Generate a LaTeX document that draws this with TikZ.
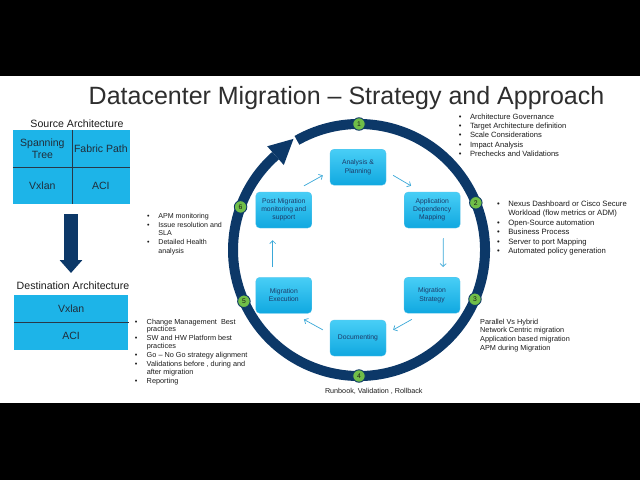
\documentclass[tikz,border=0pt]{standalone}
\usepackage{fontspec}
\setmainfont{Liberation Sans}
\usetikzlibrary{arrows.meta,calc}
\definecolor{navy}{RGB}{12,56,104}
\definecolor{cyanfill}{RGB}{29,180,232}
\definecolor{boxtop}{RGB}{72,206,246}
\definecolor{boxbot}{RGB}{16,168,224}
\definecolor{boxtext}{RGB}{28,58,104}
\definecolor{flowc}{RGB}{58,168,216}
\definecolor{numgreen}{RGB}{112,190,72}
\definecolor{bodytext}{RGB}{28,28,28}
\definecolor{divider}{RGB}{40,56,72}
\newcommand\bl{\textbullet}
\begin{document}
\begin{tikzpicture}[x=1pt,y=1pt,
  stepbox/.style={rounded corners=4pt, top color=boxtop, bottom color=boxbot, draw=boxbot!70!white, line width=0.3pt, minimum width=56pt, minimum height=36pt, inner sep=1pt, align=center, text=boxtext, font=\fontsize{6.8}{8.1}\selectfont},
  flow/.style={draw=flowc, line width=0.7pt, -{Straight Barb[length=3pt,width=6pt]}},
  numdot/.style={circle, fill=numgreen, draw=navy, line width=0.9pt, minimum size=12.5pt, inner sep=0pt, font=\fontsize{6.8}{7}\selectfont, text=black!90},
  cell/.style={fill=cyanfill, inner sep=0pt, align=center, text=divider!80!black, font=\fontsize{10.5}{12.3}\selectfont},
  divline/.style={draw=divider, line width=0.6pt},
  label/.style={font=\fontsize{10.6}{12}\selectfont, text=bodytext, inner sep=0pt},
  listtext/.style={inner sep=0pt, text=bodytext},
  bigarrow/.style={draw=navy, line width=14pt, -{Triangle[length=13pt,width=22pt]}}
]
\fill[black] (0,0) rectangle (640,-480);
\fill[white] (0,-76) rectangle (640,-403);
\useasboundingbox (0,0) rectangle (640,-480);

% title
\node[anchor=base, inner sep=0pt, font=\fontsize{25}{30}\selectfont, text=black!82] (title) at (346.5,-104) {Datacenter Migration – Strategy and Approach};

% source architecture
\node[label, anchor=base] (srclbl) at (77,-127.3) {Source Architecture};
\node[cell, minimum width=58.7pt, minimum height=37.3pt] (s11) at (42.35,-148.65) {Spanning\\Tree};
\node[cell, minimum width=58.3pt, minimum height=37.3pt] (s12) at (100.85,-148.65) {Fabric Path};
\node[cell, minimum width=58.7pt, minimum height=36.7pt] (s21) at (42.35,-185.65) {Vxlan};
\node[cell, minimum width=58.3pt, minimum height=36.7pt] (s22) at (100.85,-185.65) {ACI};
\draw[divline] (s11.north east) -- (s21.south east);
\draw[divline] (s11.south west) -- (s12.south east);

% big arrow
\coordinate (ba1) at (71,-214);
\coordinate (ba2) at (71,-273);
\draw[bigarrow] (ba1) -- (ba2);

% destination architecture
\node[label, anchor=base] (dstlbl) at (73,-289) {Destination Architecture};
\node[cell, minimum width=114.3pt, minimum height=27.3pt] (d1) at (71.15,-308.65) {Vxlan};
\node[cell, minimum width=114.3pt, minimum height=27.7pt] (d2) at (71.15,-336.15) {ACI};
\draw[divline] (d1.south west) -- (d1.south east);

% ring
\coordinate (C) at (359,-250);
\draw[navy, line width=10pt] ($(C)+(119.5:126)$) arc[start angle=119.5, end angle=-228.5, radius=126];
\fill[navy] ($(C)+(131.5:138.5)$) -- ($(C)+(120.5:129)$) -- ($(C)+(131.5:113.5)$) -- cycle;

% boxes
\node[stepbox] (ana) at (358,-167.2) {Analysis \&\\Planning};
\node[stepbox] (adm) at (432.2,-210) {Application\\Dependency\\Mapping};
\node[stepbox] (strat) at (432,-295.2) {Migration\\Strategy};
\node[stepbox] (doc) at (358,-338) {Documenting};
\node[stepbox] (exe) at (283.8,-295.3) {Migration\\Execution};
\node[stepbox] (post) at (283.8,-210) {Post Migration\\monitoring and\\support};

% flows
\draw[flow] ($(post.north east)+(-8,6)$) -- ($(ana.south west)+(-7,10)$);
\draw[flow] ($(ana.south east)+(7,10)$) -- ($(adm.north west)+(7,6)$);
\draw[flow] ($(adm.south east)+(-17,-10)$) -- ($(strat.north east)+(-17,10)$);
\draw[flow] ($(strat.south west)+(8,-6)$) -- ($(doc.north east)+(7,-10)$);
\draw[flow] ($(doc.north west)+(-7,-10)$) -- ($(exe.south east)+(-8,-6)$);
\draw[flow] ($(exe.north west)+(17,10)$) -- ($(post.south west)+(17,-12)$);

% number dots
\node[numdot] (n1) at ($(C)+(90:126)$) {1};
\node[numdot] (n2) at ($(C)+(22:126)$) {2};
\node[numdot] (n3) at ($(C)+(-23:126)$) {3};
\node[numdot] (n4) at ($(C)+(-90:126)$) {4};
\node[numdot] (n5) at ($(C)+(-156:126)$) {5};
\node[numdot] (n6) at ($(C)+(160:126)$) {6};

% lists
\node[listtext, anchor=base west, font=\fontsize{7.6}{9.35}\selectfont] (list1) at (458.7,-119) {\begin{tabular}[t]{@{}l@{\hspace{8.5pt}}l@{}}
\bl & Architecture Governance\\
\bl & Target Architecture definition\\
\bl & Scale Considerations\\
\bl & Impact Analysis\\
\bl & Prechecks and Validations
\end{tabular}};

\node[listtext, anchor=base west, font=\fontsize{7.7}{9.4}\selectfont] (list2) at (497,-206.5) {\begin{tabular}[t]{@{}l@{\hspace{8.4pt}}l@{}}
\bl & Nexus Dashboard or Cisco Secure\\
 & Workload (flow metrics or ADM)\\
\bl & Open-Source automation\\
\bl & Business Process\\
\bl & Server to port Mapping\\
\bl & Automated policy generation
\end{tabular}};

\node[listtext, anchor=base west, font=\fontsize{7.3}{8.7}\selectfont] (list3) at (480,-324) {\begin{tabular}[t]{@{}l@{}}
Parallel Vs Hybrid\\
Network Centric migration\\
Application based migration\\
APM during Migration
\end{tabular}};

\node[listtext, anchor=base, font=\fontsize{7.2}{8.7}\selectfont] (list4) at (373.8,-393) {Runbook, Validation , Rollback};

\node[listtext, anchor=base west, font=\fontsize{7.1}{8.7}\selectfont] (list6) at (147,-218.5) {\begin{tabular}[t]{@{}l@{\hspace{8.7pt}}l@{}}
\bl & APM monitoring\\
\bl & Issue resolution and\\
 & SLA\\
\bl & Detailed Health\\
 & analysis
\end{tabular}};

\node[listtext, anchor=base west, font=\fontsize{7.3}{7.8}\selectfont] (list5) at (134.7,-324) {\begin{tabular}[t]{@{}l@{\hspace{9.3pt}}l@{}}
\bl & Change Management~ Best\\
 & practices\\[1.2pt]
\bl & SW and HW Platform best\\
 & practices\\[1.2pt]
\bl & Go – No Go strategy alignment\\[1.2pt]
\bl & Validations before , during and\\
 & after migration\\[1.2pt]
\bl & Reporting
\end{tabular}};
\end{tikzpicture}
\end{document}
